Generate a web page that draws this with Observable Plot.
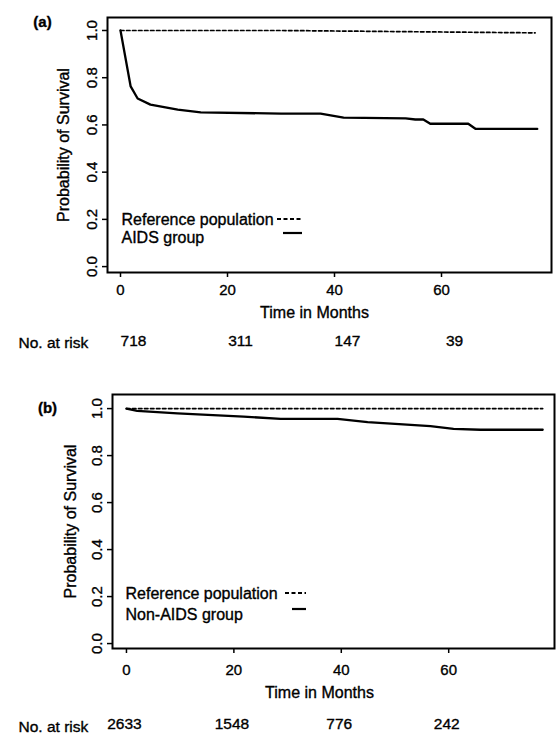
<!DOCTYPE html>
<html><head><meta charset="utf-8">
<script src="https://cdn.jsdelivr.net/npm/d3@7"></script>
<script src="https://cdn.jsdelivr.net/npm/@observablehq/plot@0.6"></script>
<style>
body{margin:0;background:#fff;width:557px;height:734px;overflow:hidden;}
#chart svg{display:block;}
#chart svg text{stroke:#000;stroke-width:0.35px;}
</style></head><body><div id="chart"></div>
<script>
// ---- data ----
const monthTicks = [0, 20, 40, 60];
const survTicks = [0, 0.2, 0.4, 0.6, 0.8, 1.0];

// panel (a)
const aidsMonths = [0, 1.9, 3.2, 5.6, 10.7, 15, 30, 37.4, 41.7, 53.3, 55.1, 56.6, 57.9, 65, 66.4, 77.9];
const aidsSurv   = [1.0, 0.763, 0.712, 0.686, 0.665, 0.653, 0.648, 0.648, 0.631, 0.628, 0.623, 0.623, 0.605, 0.605, 0.583, 0.583];
const refAMonths = [0, 30, 77.5];
const refASurv   = [1.0, 1.0, 0.99];
const riskTimesA = [0, 20, 40, 60];
const riskA      = [718, 311, 147, 39];

// panel (b)
const nonAidsMonths = [0, 2.0, 9.5, 21.8, 28.7, 39.3, 44.9, 56.6, 60.9, 65.9, 77.5];
const nonAidsSurv   = [1.0, 0.990, 0.980, 0.966, 0.956, 0.956, 0.942, 0.925, 0.914, 0.910, 0.910];
const refBMonths = [0, 77.5];
const refBSurv   = [1.0, 1.0];
const riskTimesB = [0, 20, 40, 60];
const riskB      = [2633, 1548, 776, 242];

const zip = (xs, ys) => xs.map((x, i) => ({t: x, s: ys[i]}));
const FONT = "'Liberation Sans', Arial, Helvetica, sans-serif";

function legendKeys(cfg) {
  return (index, scales, values, dims) => {
    const x0 = dims.marginLeft, y0 = dims.height - dims.marginBottom;
    const g = d3.create("svg:g").attr("stroke", "#000").attr("fill", "none");
    g.append("line")
      .attr("x1", x0 + cfg.dashDx[0]).attr("x2", x0 + cfg.dashDx[1])
      .attr("y1", y0 + cfg.leg1Dy).attr("y2", y0 + cfg.leg1Dy)
      .attr("stroke-width", 1.8).attr("stroke-dasharray", "4,2.5");
    g.append("line")
      .attr("x1", x0 + cfg.solidDx[0]).attr("x2", x0 + cfg.solidDx[1])
      .attr("y1", y0 + cfg.solidDy).attr("y2", y0 + cfg.solidDy)
      .attr("stroke-width", 2.2);
    return g.node();
  };
}

function panel(cfg) {
  const risk = cfg.riskTimes.map((t, i) => ({t, n: cfg.risk[i]}));
  const T = {lineAnchor: "middle"};
  return Plot.plot({
    width: 557,
    height: 367,
    marginLeft: cfg.ml, marginRight: cfg.mr, marginTop: cfg.mt, marginBottom: cfg.mb,
    style: {fontFamily: FONT, color: "#000", background: "#fff", overflow: "visible"},
    x: {domain: cfg.xDomain, axis: null},
    y: {domain: cfg.yDomain, axis: null},
    marks: [
      Plot.line(zip(cfg.refMonths, cfg.refSurv), {x: "t", y: "s", stroke: "#000", strokeWidth: 1.7, strokeDasharray: "3.5,2.5"}),
      Plot.line(zip(cfg.grpMonths, cfg.grpSurv), {x: "t", y: "s", stroke: "#000", strokeWidth: 2.3}),
      Plot.frame({stroke: "#000", strokeWidth: 2}),
      Plot.axisX({ticks: monthTicks, tickSize: 5, tickPadding: cfg.xPad, fontSize: 15, label: null, strokeWidth: 1.5}),
      Plot.axisY({ticks: survTicks, tickFormat: d3.format(".1f"), tickRotate: -90, tickSize: 5, tickPadding: 6, fontSize: 15, label: null, strokeWidth: 1.5}),
      Plot.text(["Probability of Survival"], {...T, frameAnchor: "left", textAnchor: "middle", rotate: -90, dx: cfg.ylabDx, fontSize: 16}),
      Plot.text(["Time in Months"], {...T, frameAnchor: "bottom", textAnchor: "middle", dx: cfg.xlabDx, dy: cfg.xlabDy, fontSize: 16}),
      Plot.text(["No. at risk"], {...T, frameAnchor: "bottom-left", textAnchor: "start", dx: cfg.riskLabDx, dy: cfg.riskLabDy, fontSize: 15.5}),
      Plot.text(risk, {...T, x: "t", text: d => String(d.n), frameAnchor: "bottom", textAnchor: "middle", dx: cfg.riskDx, dy: cfg.riskDy, fontSize: 15.5}),
      Plot.text([cfg.tag], {...T, frameAnchor: "top-left", textAnchor: "middle", dx: -65, dy: cfg.tagDy, fontSize: 15, fontWeight: "bold"}),
      Plot.text(["Reference population"], {...T, frameAnchor: "bottom-left", textAnchor: "start", dx: cfg.legDx, dy: cfg.leg1Dy, fontSize: 16}),
      Plot.text([cfg.grpName], {...T, frameAnchor: "bottom-left", textAnchor: "start", dx: cfg.legDx, dy: cfg.leg2Dy, fontSize: 16}),
      legendKeys(cfg)
    ]
  });
}

const chart = document.getElementById("chart");
chart.append(panel({
  tag: "(a)", grpName: "AIDS group",
  ml: 107, mr: 6, mt: 17, mb: 95,
  xDomain: [-2.43, 80.56], yDomain: [-0.025, 1.055],
  refMonths: refAMonths, refSurv: refASurv, grpMonths: aidsMonths, grpSurv: aidsSurv,
  riskTimes: riskTimesA, risk: riskA,
  xPad: 7, ylabDx: -44, xlabDx: -15, xlabDy: 40,
  riskLabDx: -89, riskLabDy: 71, riskDx: 13, riskDy: 69,
  tagDy: 5,
  legDx: 14, leg1Dy: -53, leg2Dy: -35,
  dashDx: [170, 195], solidDx: [176, 195], solidDy: -39
}));
chart.append(panel({
  tag: "(b)", grpName: "Non-AIDS group",
  ml: 112, mr: 3, mt: 27, mb: 86,
  xDomain: [-2.6, 79.7], yDomain: [-0.021, 1.06],
  refMonths: refBMonths, refSurv: refBSurv, grpMonths: nonAidsMonths, grpSurv: nonAidsSurv,
  riskTimes: riskTimesB, risk: riskB,
  xPad: 11, ylabDx: -42, xlabDx: -14, xlabDy: 44,
  riskLabDx: -94, riskLabDy: 79, riskDx: -2, riskDy: 76,
  tagDy: 14,
  legDx: 13, leg1Dy: -55, leg2Dy: -34,
  dashDx: [173, 194], solidDx: [180, 194], solidDy: -39
}));
</script>
</body></html>
